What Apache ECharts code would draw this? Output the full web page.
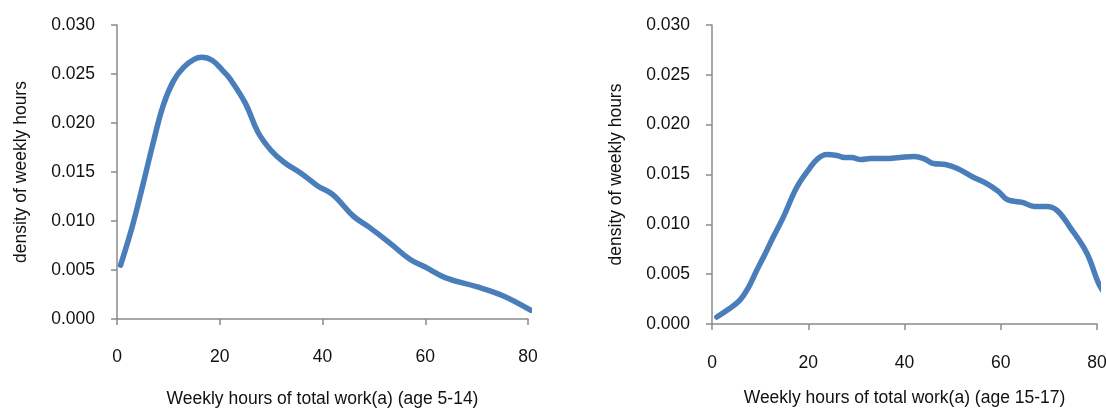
<!DOCTYPE html>
<html>
<head>
<meta charset="utf-8">
<script src="https://cdn.jsdelivr.net/npm/echarts@6/dist/echarts.min.js"></script>
<style>
  html, body { margin: 0; padding: 0; background: #ffffff; }
  #chart { width: 1106px; height: 409px; }
</style>
</head>
<body>
<div id="chart"></div>
<script>
// Kernel density of weekly hours of total work, two age groups
const hoursAxisMax = 80;
const hoursAxisStep = 20;
const densityAxisMax = 0.030;
const densityAxisStep = 0.005;

const axisTitleY = 'density of weekly hours';
const axisTitleYoung = 'Weekly hours of total work(a) (age 5-14)';
const axisTitleOlder = 'Weekly hours of total work(a) (age 15-17)';

// [weekly hours, density] for children aged 5-14
const densityAge5to14 = [
  [0.7, 0.0055], [3, 0.0095], [5, 0.0136], [7, 0.0179], [9, 0.0218],
  [11, 0.0243], [13, 0.0257], [15, 0.0265], [16.5, 0.0267], [18.5, 0.0264],
  [20.5, 0.0254], [22, 0.0245], [25, 0.0220], [27.5, 0.0190], [30, 0.0172],
  [32.5, 0.0160], [36, 0.0148], [39, 0.0136], [42, 0.0127], [46, 0.0105],
  [49, 0.0094], [53, 0.0078], [57, 0.0061], [60, 0.0053], [64, 0.0042],
  [70, 0.0033], [75, 0.0024], [80.5, 0.0009]
];

// [weekly hours, density] for children aged 15-17
const densityAge15to17 = [
  [1, 0.0007], [3.5, 0.0015], [5.8, 0.0024], [7.5, 0.0036], [9.3, 0.0054],
  [11, 0.0070], [12.7, 0.0087], [14.8, 0.0107], [17.6, 0.0137], [20.4, 0.0157],
  [21.8, 0.0165], [23.8, 0.0170], [26, 0.0169], [27.5, 0.0167], [29, 0.0167],
  [31, 0.0165], [33, 0.0166], [36, 0.0166], [39, 0.0167], [41.9, 0.0168],
  [44, 0.0166], [46, 0.0161], [48.5, 0.0160], [51, 0.0156], [54, 0.0148],
  [57, 0.0141], [59.5, 0.0133], [61.3, 0.0125], [64.5, 0.0122], [67, 0.0118],
  [69.6, 0.0118], [71.7, 0.0114], [74.4, 0.0097], [77.9, 0.0071], [80.3, 0.0041],
  [81.7, 0.0030]
];

const FONT = '"Liberation Sans", Arial, sans-serif';
const FONT_SIZE = 17.5;
const AXIS_GREY = '#8a8a8a';
const LINE_BLUE = '#4a7ebb';

function xAxisFor(gridIndex, title, gap, labelMargin) {
  return {
    type: 'value', gridIndex: gridIndex,
    min: 0, max: hoursAxisMax, interval: hoursAxisStep,
    name: title, nameLocation: 'middle', nameGap: gap,
    nameTextStyle: { fontFamily: FONT, fontSize: FONT_SIZE, color: '#111' },
    axisLine: { show: true, lineStyle: { color: AXIS_GREY, width: 1.5 } },
    axisTick: { show: true, length: 6, lineStyle: { color: AXIS_GREY, width: 1.5 } },
    axisLabel: { fontFamily: FONT, fontSize: FONT_SIZE, color: '#111', margin: labelMargin, showMaxLabel: true },
    splitLine: { show: false }
  };
}

function yAxisFor(gridIndex) {
  return {
    type: 'value', gridIndex: gridIndex,
    min: 0, max: densityAxisMax, interval: densityAxisStep,
    name: axisTitleY, nameLocation: 'middle', nameGap: 87, nameRotate: 90,
    nameTextStyle: { fontFamily: FONT, fontSize: FONT_SIZE, color: '#111' },
    axisLine: { show: true, lineStyle: { color: AXIS_GREY, width: 1.5 } },
    axisTick: { show: true, length: 6, lineStyle: { color: AXIS_GREY, width: 1.5 } },
    axisLabel: {
      fontFamily: FONT, fontSize: FONT_SIZE, color: '#111', margin: 22,
      formatter: function (v) { return v.toFixed(3); }
    },
    splitLine: { show: false }
  };
}

function densityLine(index, data) {
  return {
    type: 'line', xAxisIndex: index, yAxisIndex: index,
    data: data, smooth: 0.4, showSymbol: false, clip: false,
    lineStyle: { color: LINE_BLUE, width: 5.5, cap: 'round', join: 'round' },
    emphasis: { disabled: true }
  };
}

const chart = echarts.init(document.getElementById('chart'), null, { renderer: 'canvas' });
chart.setOption({
  animation: false,
  backgroundColor: '#ffffff',
  grid: [
    { left: 117, top: 25, width: 411, height: 294, outerBoundsMode: 'none', containLabel: false },
    { left: 712, top: 25, width: 385, height: 299, outerBoundsMode: 'none', containLabel: false }
  ],
  xAxis: [
    xAxisFor(0, axisTitleYoung, 71, 29),
    xAxisFor(1, axisTitleOlder, 65, 30)
  ],
  yAxis: [yAxisFor(0), yAxisFor(1)],
  series: [
    densityLine(0, densityAge5to14),
    densityLine(1, densityAge15to17)
  ]
});
</script>
</body>
</html>
